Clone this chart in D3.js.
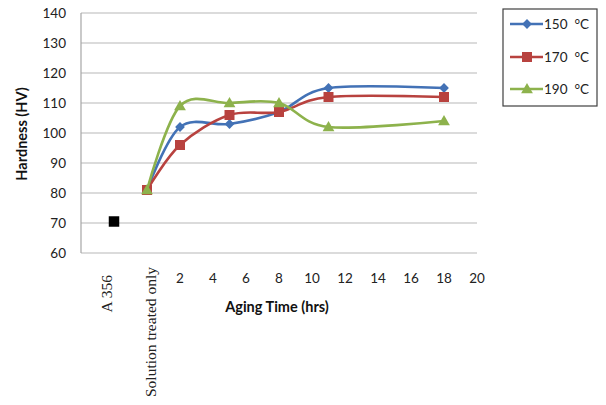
<!DOCTYPE html>
<html><head><meta charset="utf-8">
<script src="https://cdn.jsdelivr.net/npm/d3@7"></script>
<style>
html,body{margin:0;padding:0;background:#fff;}
svg{display:block;}
</style></head>
<body>
<script>
// ---- data ----
const agingHours = [0, 2, 5, 8, 11, 18];
const hv150 = [81, 102, 103, 107, 115, 115];
const hv170 = [81, 96, 106, 107, 112, 112];
const hv190 = [81, 109, 110, 110, 102, 104];
const baseCategory = "A 356";
const baseX = -2;
const baseHV = 70.5;
const solutionLabel = "Solution treated only";
const xTicks = [2, 4, 6, 8, 10, 12, 14, 16, 18, 20];
const yTicks = [60, 70, 80, 90, 100, 110, 120, 130, 140];
const seriesNames = ["150  \u00B0C", "170  \u00B0C", "190  \u00B0C"];
const seriesColors = ["#4372B6", "#B8423F", "#8DB24C"];

const W = 606, H = 405;
const svg = d3.select("body").append("svg").attr("width", W).attr("height", H);

const x = d3.scaleLinear().domain([-4, 20]).range([81, 477]);
const y = d3.scaleLinear().domain([60, 140]).range([253, 13]);

const sans = "Lato, 'Open Sans', sans-serif";

// marker drawing
function marker(sel, i) {
  if (i === 0) {
    sel.attr("d", d3.symbol().type(d3.symbolSquare).size(48)());
  } else if (i === 1) {
    sel.attr("d", d3.symbol().type(d3.symbolSquare).size(100)());
  } else {
    sel.attr("d", d3.symbol().type(d3.symbolTriangle).size(60)());
  }
}
function markerTransform(cx, cy, i) {
  if (i === 0) return `translate(${cx},${cy}) rotate(45)`;
  if (i === 2) return `translate(${cx},${cy + 0.8})`;
  return `translate(${cx},${cy})`;
}

// gridlines
svg.append("g").selectAll("line").data(yTicks).join("line")
  .attr("x1", x(-4)).attr("x2", x(20))
  .attr("y1", d => y(d)).attr("y2", d => y(d))
  .attr("stroke", "#b8b8b8").attr("stroke-width", 1.2);

// left axis line
svg.append("line").attr("x1", x(-4)).attr("x2", x(-4)).attr("y1", y(140)).attr("y2", y(60))
  .attr("stroke", "#a6a6a6").attr("stroke-width", 1.2);

// y axis labels
svg.append("g").selectAll("text").data(yTicks).join("text")
  .attr("x", 66).attr("y", d => y(d) + 5)
  .attr("text-anchor", "end")
  .attr("font-family", sans).attr("font-size", 13.5).attr("fill", "#222")
  .text(d => d);

// x tick labels
svg.append("g").selectAll("text").data(xTicks).join("text")
  .attr("x", d => x(d)).attr("y", 283)
  .attr("text-anchor", "middle")
  .attr("font-family", sans).attr("font-size", 13.5).attr("fill", "#222")
  .text(d => d);

// category labels (rotated, serif)
svg.append("text")
  .attr("transform", `translate(${x(baseX) - 2},275) rotate(-90)`)
  .attr("text-anchor", "end")
  .attr("font-family", "'Liberation Serif', serif").attr("font-size", 15.5).attr("fill", "#222")
  .text(baseCategory);
svg.append("text")
  .attr("transform", `translate(${x(0) + 9},267) rotate(-90)`)
  .attr("text-anchor", "end")
  .attr("font-family", "'Liberation Serif', serif").attr("font-size", 15.5).attr("fill", "#222")
  .text(solutionLabel);

// axis titles
svg.append("text")
  .attr("x", 277).attr("y", 312)
  .attr("text-anchor", "middle")
  .attr("font-family", sans).attr("font-weight", "bold").attr("font-size", 14.5).attr("fill", "#111")
  .text("Aging Time (hrs)");
svg.append("text")
  .attr("transform", "translate(27,134) rotate(-90)")
  .attr("text-anchor", "middle")
  .attr("font-family", sans).attr("font-weight", "bold").attr("font-size", 14.5).attr("fill", "#111")
  .text("Hardness (HV)");

// series
const allSeries = [hv150, hv170, hv190];
const line = d3.line().x(d => x(d[0])).y(d => y(d[1])).curve(d3.curveCardinal.tension(0));

allSeries.forEach((vals, i) => {
  const pts = agingHours.map((h, j) => [h, vals[j]]);
  svg.append("path").datum(pts)
    .attr("d", line)
    .attr("fill", "none").attr("stroke", seriesColors[i]).attr("stroke-width", 2.6);
  svg.append("g").selectAll("path").data(pts).join("path")
    .call(marker, i)
    .attr("transform", d => markerTransform(x(d[0]), y(d[1]), i))
    .attr("fill", seriesColors[i]);
});

// A356 base point
svg.append("path")
  .attr("transform", `translate(${x(baseX)},${y(baseHV)})`)
  .attr("d", d3.symbol().type(d3.symbolSquare).size(110))
  .attr("fill", "#000");

// legend
const lg = svg.append("g");
lg.append("rect").attr("x", 503).attr("y", 9).attr("width", 94).attr("height", 97)
  .attr("fill", "#fff").attr("stroke", "#404040").attr("stroke-width", 1.2);
const rowsY = [24, 57, 89];
seriesNames.forEach((name, i) => {
  lg.append("line").attr("x1", 510).attr("x2", 543).attr("y1", rowsY[i]).attr("y2", rowsY[i])
    .attr("stroke", seriesColors[i]).attr("stroke-width", 2.6);
  lg.append("path")
    .call(marker, i)
    .attr("transform", markerTransform(527, rowsY[i], i))
    .attr("fill", seriesColors[i]);
  lg.append("text").attr("x", 544).attr("y", rowsY[i] + 5)
    .attr("font-family", sans).attr("font-size", 13.5).attr("fill", "#222")
    .attr("xml:space", "preserve").style("white-space", "pre")
    .text(name);
});
</script>
</body></html>
